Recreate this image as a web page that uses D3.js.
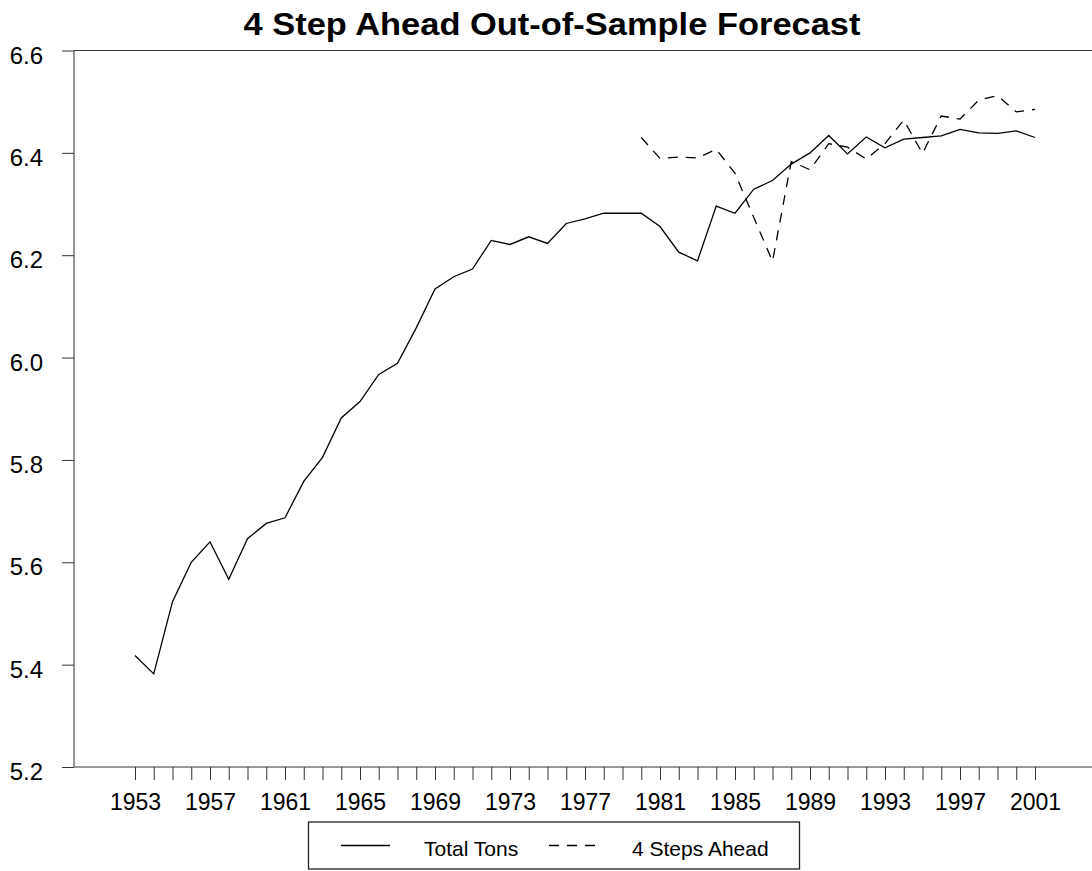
<!DOCTYPE html>
<html>
<head>
<meta charset="utf-8">
<script src="https://cdn.jsdelivr.net/npm/d3@7"></script>
<style>
  body { margin: 0; background: #fff; }
  text { font-family: "Liberation Sans", Arial, sans-serif; }
</style>
</head>
<body>
<div id="chart"></div>
<script>
let w = 1092,
    h = 871;

// years shown on the axis
let years = d3.range(1953, 2002);
let tickLabelYears = [1953, 1957, 1961, 1965, 1969, 1973, 1977, 1981, 1985, 1989, 1993, 1997, 2001];
let yTicks = [5.2, 5.4, 5.6, 5.8, 6.0, 6.2, 6.4, 6.6];

// Total Tons, 1953 - 2001
let totalTons = [5.418, 5.382, 5.523, 5.600, 5.640, 5.567, 5.646, 5.676, 5.687, 5.758,
                 5.805, 5.882, 5.914, 5.967, 5.989, 6.058, 6.134, 6.158, 6.173, 6.229,
                 6.221, 6.236, 6.223, 6.262, 6.271, 6.282, 6.282, 6.282, 6.256, 6.206,
                 6.189, 6.296, 6.282, 6.329, 6.346, 6.378, 6.400, 6.434, 6.398, 6.431,
                 6.410, 6.427, 6.430, 6.433, 6.446, 6.439, 6.438, 6.443, 6.430];

// 4 step ahead forecast, 1980 - 2001
let forecastYears = d3.range(1980, 2002);
let forecast = [6.430, 6.389, 6.392, 6.390, 6.407, 6.360, 6.274, 6.188, 6.383, 6.367,
                6.418, 6.411, 6.388, 6.418, 6.464, 6.399, 6.472, 6.466, 6.503, 6.512,
                6.480, 6.485];

let legendLabels = ["Total Tons", "4 Steps Ahead"];

let x = d3.scaleLinear()
          .domain([1953, 2001])
          .range([135, 1035]);

let y = d3.scaleLinear()
          .domain([5.2, 6.6])
          .range([767, 50.5]);

let svg = d3.select("#chart")
            .append("svg")
            .attr("width", w)
            .attr("height", h);

// title
svg.append("text")
   .attr("x", 552)
   .attr("y", 35)
   .attr("text-anchor", "middle")
   .attr("textLength", 617)
   .attr("lengthAdjust", "spacingAndGlyphs")
   .style("font-size", "32px")
   .style("font-weight", "bold")
   .text("4 Step Ahead Out-of-Sample Forecast");

// frame lines
svg.append("line")
   .attr("x1", 74).attr("x2", 74)
   .attr("y1", y(6.6)).attr("y2", y(5.2))
   .style("stroke", "#333");

svg.append("line")
   .attr("x1", 74).attr("x2", w)
   .attr("y1", y(6.6)).attr("y2", y(6.6))
   .style("stroke", "#333");

svg.append("line")
   .attr("x1", 74).attr("x2", w)
   .attr("y1", y(5.2)).attr("y2", y(5.2))
   .style("stroke", "#333");

// y axis
let yAxis = d3.axisLeft(y)
              .tickValues(yTicks)
              .tickSize(12)
              .tickPadding(19)
              .tickFormat(d3.format(".1f"));

let yg = svg.append("g")
            .attr("transform", "translate(74,0)")
            .call(yAxis);

yg.select(".domain").remove();
yg.selectAll(".tick line").style("stroke", "#333");
yg.selectAll(".tick text")
  .attr("dy", "0.9em")
  .attr("y", -9)
  .style("font-size", "24px")
  .style("font-family", "'Liberation Sans', Arial, sans-serif")
  .style("fill", "#000");

// x axis
let xAxis = d3.axisBottom(x)
              .tickValues(years)
              .tickSize(13)
              .tickPadding(14)
              .tickFormat(d => tickLabelYears.includes(d) ? d : "");

let xg = svg.append("g")
            .attr("transform", "translate(0," + y(5.2) + ")")
            .call(xAxis);

xg.select(".domain").remove();
xg.selectAll(".tick line").style("stroke", "#333");
xg.selectAll(".tick text")
  .style("font-size", "23px")
  .style("font-family", "'Liberation Sans', Arial, sans-serif")
  .style("fill", "#000");

// lines
let line = d3.line()
             .x(d => x(d[0]))
             .y(d => y(d[1]));

svg.append("path")
   .datum(years.map((yr, i) => [yr, totalTons[i]]))
   .attr("d", line)
   .style("fill", "none")
   .style("stroke", "#000")
   .style("stroke-width", 1.3);

svg.append("path")
   .datum(forecastYears.map((yr, i) => [yr, forecast[i]]))
   .attr("d", line)
   .style("fill", "none")
   .style("stroke", "#000")
   .style("stroke-width", 1.3)
   .style("stroke-dasharray", "10,8");

// legend
let legend = svg.append("g");

legend.append("rect")
      .attr("x", 308.5)
      .attr("y", 822)
      .attr("width", 491)
      .attr("height", 47)
      .style("fill", "none")
      .style("stroke", "#222")
      .style("stroke-width", 1.3);

legend.append("line")
      .attr("x1", 341).attr("x2", 390)
      .attr("y1", 845.5).attr("y2", 845.5)
      .style("stroke", "#000")
      .style("stroke-width", 1.3);

legend.append("text")
      .attr("x", 424)
      .attr("y", 856)
      .style("font-size", "21px")
      .text(legendLabels[0]);

legend.append("line")
      .attr("x1", 549).attr("x2", 595)
      .attr("y1", 845.5).attr("y2", 845.5)
      .style("stroke", "#000")
      .style("stroke-width", 1.3)
      .style("stroke-dasharray", "10,8");

legend.append("text")
      .attr("x", 632)
      .attr("y", 856)
      .style("font-size", "21px")
      .text(legendLabels[1]);
</script>
</body>
</html>
